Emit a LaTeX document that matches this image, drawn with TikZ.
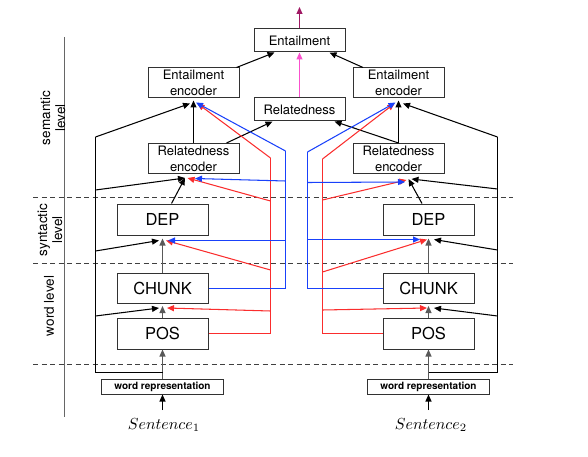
\documentclass[tikz,border=0pt]{standalone}
\usepackage{fontspec}
\newfontfamily\helv{TeX Gyre Heros}
\usetikzlibrary{arrows.meta}
\definecolor{cred}{RGB}{250,45,45}
\definecolor{cblue}{RGB}{25,65,250}
\definecolor{cpink}{RGB}{250,80,205}
\definecolor{cplum}{RGB}{160,25,100}
\definecolor{cbox}{RGB}{50,50,50}
\tikzset{
  box/.style={draw=cbox, line width=1pt, inner sep=0pt, align=center,
    font=\helv\fontsize{13}{16}\selectfont, minimum width=91pt},
  enc/.style={box, minimum height=30pt},
  mid/.style={box, minimum height=23pt},
  big/.style={box, font=\helv\fontsize{16.5}{18}\selectfont, minimum height=31pt},
  wrbox/.style={draw=cbox, line width=1pt, inner sep=0pt, minimum width=122pt,
    minimum height=15pt, font=\helv\bfseries\fontsize{10}{12}\selectfont},
  sent/.style={font=\fontsize{10}{12}\selectfont, inner sep=0pt, scale=1.6},
  lvl/.style={rotate=90, align=center, inner sep=0pt, font=\helv\fontsize{13.5}{15}\selectfont},
  trunk/.style={line width=1pt},
  conn/.style={line width=1.05pt, -{Triangle[length=7pt,width=6pt]}},
  blk/.style={conn, black},
  gry/.style={conn, black!65},
  rd/.style={conn, cred},
  bl/.style={conn, cblue},
  sep/.style={line width=1pt, black!75, dash pattern=on 5pt off 3.5pt},
}
\begin{document}
\begin{tikzpicture}[x=1pt,y=-1pt]
\useasboundingbox (0,0) rectangle (588,457);
% axis and level separators
\draw[line width=1.1pt, black!60] (64.5,37) -- (64.5,417);
\draw[sep] (33,197.5) -- (513,197.5);
\draw[sep] (33,263.5) -- (513,263.5);
\draw[sep] (33,364.5) -- (513,364.5);
\node[lvl] (Lsem) at (53,118) {semantic\\level};
\node[lvl] (Lsyn) at (50,230) {syntactic\\level};
\node[lvl] (Lword) at (49,306) {word level};
% middle
\node[mid] (ENT) at (299.5,40.5) {Entailment};
\node[mid] (REL) at (299.5,109.5) {Relatedness};
\coordinate (top) at (299.5,7);
\draw[conn, cpink] (REL.north) -- (ENT.south);
\draw[conn, cplum] (ENT.north) -- (top);
% left stack
\node[enc] (LEE) at (193.5,83) {Entailment\\encoder};
\node[enc] (LRE) at (193.5,158.5) {Relatedness\\encoder};
\node[big] (LDEP) at (162.5,219.5) {DEP};
\node[big, minimum height=30pt] (LCH) at (162.5,288.5) {CHUNK};
\node[big] (LPOS) at (162.5,333.5) {POS};
\node[wrbox] (LWR) at (162.5,386.5) {word representation};
\node[sent] (LS) at (164,425) {$Sentence_1$};
% right stack
\node[enc] (REE) at (398.5,83) {Entailment\\encoder};
\node[enc] (RRE) at (398.5,158.5) {Relatedness\\encoder};
\node[big] (RDEP) at (428.5,219.5) {DEP};
\node[big, minimum height=30pt] (RCH) at (428.5,288.5) {CHUNK};
\node[big] (RPOS) at (428.5,333.5) {POS};
\node[wrbox] (RWR) at (428.5,386.5) {word representation};
\node[sent] (RS) at (431,425) {$Sentence_2$};
\coordinate (LSb) at (162.5,410);
\coordinate (RSb) at (428.5,410);
% ---------- left black / gray ----------
\draw[blk] (LSb) -- (LWR.south);
\draw[gry] (LWR.north) -- (LPOS.south);
\draw[gry] (LPOS.north) -- ([yshift=-2pt]LCH.south);
\draw[gry] (LCH.north) -- ([yshift=-3pt]LDEP.south);
\draw[blk] ([xshift=9pt]LDEP.north) -- ([xshift=-8.5pt,yshift=-4pt]LRE.south);
\draw[blk] (LRE.north) -- ([yshift=-2pt]LEE.south);
\draw[blk] ([xshift=33pt]LRE.north) -- ([xshift=-27pt]REL.south);
\draw[blk] ([xshift=43pt]LEE.north) -- ([xshift=-25pt]ENT.south);
\coordinate (lsa) at (162.5,372.5);
\coordinate (lsb) at (95.5,372.5);
\coordinate (lst) at (95.5,137);
\coordinate (ls1) at (95.5,316);
\coordinate (ls2) at (95.5,251);
\coordinate (ls3) at (95.5,190);
\draw[trunk] (lsa) -- (lsb) -- (lst);
\draw[blk] (lst) -- ([xshift=-3.5pt,yshift=-5pt]LEE.south);
\draw[blk] (ls3) -- ([xshift=-8.5pt,yshift=-4pt]LRE.south);
\draw[blk] (ls2) -- ([xshift=-3.5pt,yshift=-5pt]LDEP.south);
\draw[blk] (ls1) -- ([xshift=-3.5pt,yshift=-4pt]LCH.south);
% ---------- left red ----------
\coordinate (lr0) at (270.5,333.5);
\coordinate (lrt) at (270.5,158);
\coordinate (lr1) at (270.5,311);
\coordinate (lr2) at (270.5,270);
\coordinate (lr3) at (270.5,201);
\draw[trunk, cred] (LPOS.east) -- (lr0) -- (lrt);
\draw[rd] (lrt) -- ([xshift=4pt,yshift=-5pt]LEE.south);
\draw[rd] (lr3) -- ([xshift=-6pt,yshift=-4pt]LRE.south);
\draw[rd] (lr2) -- ([xshift=3.5pt,yshift=-5pt]LDEP.south);
\draw[rd] (lr1) -- ([xshift=4.5pt,yshift=-4pt]LCH.south);
% ---------- left blue ----------
\coordinate (lb0) at (285.5,288.5);
\coordinate (lbt) at (285.5,151);
\coordinate (lb1) at (285.5,240.5);
\coordinate (lb2) at (285.5,181);
\draw[trunk, cblue] (LCH.east) -- (lb0) -- (lbt);
\draw[bl] (lbt) -- ([xshift=2.5pt,yshift=-4pt]LEE.south);
\draw[bl] (lb2) -- ([xshift=1.5pt,yshift=-4.5pt]LRE.south);
\draw[bl] (lb1) -- ([xshift=5.5pt,yshift=-5pt]LDEP.south);
% ---------- right black / gray ----------
\draw[blk] (RSb) -- (RWR.south);
\draw[gry] (RWR.north) -- (RPOS.south);
\draw[gry] (RPOS.north) -- ([yshift=-2pt]RCH.south);
\draw[gry] (RCH.north) -- ([yshift=-3pt]RDEP.south);
\draw[blk] ([xshift=-6.5pt]RDEP.north) -- ([xshift=10pt,yshift=-5pt]RRE.south);
\draw[blk] (RRE.north) -- ([yshift=-2pt]REE.south);
\draw[blk] (RRE.north) -- ([xshift=35pt]REL.south);
\draw[blk] ([xshift=-35.5pt]REE.north) -- ([xshift=30pt]ENT.south);
\coordinate (rsa) at (428.5,372.5);
\coordinate (rsb) at (497.5,372.5);
\coordinate (rst) at (497.5,137);
\coordinate (rs1) at (497.5,316);
\coordinate (rs2) at (497.5,250);
\coordinate (rs3) at (497.5,189);
\draw[trunk] (rsa) -- (rsb) -- (rst);
\draw[blk] (rst) -- ([xshift=4.5pt,yshift=-5pt]REE.south);
\draw[blk] (rs3) -- ([xshift=13pt,yshift=-5pt]RRE.south);
\draw[blk] (rs2) -- ([xshift=5.5pt,yshift=-4pt]RDEP.south);
\draw[blk] (rs1) -- ([xshift=5.5pt,yshift=-4pt]RCH.south);
% ---------- right red ----------
\coordinate (rr0) at (322.5,333.5);
\coordinate (rrt) at (322.5,159);
\coordinate (rr1) at (322.5,310);
\coordinate (rr2) at (322.5,272);
\coordinate (rr3) at (322.5,200);
\draw[trunk, cred] (RPOS.west) -- (rr0) -- (rrt);
\draw[rd] (rrt) -- ([xshift=-4pt,yshift=-5pt]REE.south);
\draw[rd] (rr3) -- ([xshift=8pt,yshift=-6pt]RRE.south);
\draw[rd] (rr2) -- ([xshift=-1.5pt,yshift=-4pt]RDEP.south);
\draw[rd] (rr1) -- ([xshift=-1.5pt,yshift=-4pt]RCH.south);
% ---------- right blue ----------
\coordinate (rb0) at (307.5,288.5);
\coordinate (rbt) at (307.5,152);
\coordinate (rb1) at (307.5,239.5);
\coordinate (rb2) at (307.5,182.5);
\draw[trunk, cblue] (RCH.west) -- (rb0) -- (rbt);
\draw[bl] (rbt) -- ([xshift=-3pt,yshift=-4pt]REE.south);
\draw[bl] (rb2) -- ([xshift=6.5pt,yshift=-8pt]RRE.south);
\draw[bl] (rb1) -- ([xshift=-8.5pt,yshift=-4pt]RDEP.south);
\end{tikzpicture}
\end{document}
